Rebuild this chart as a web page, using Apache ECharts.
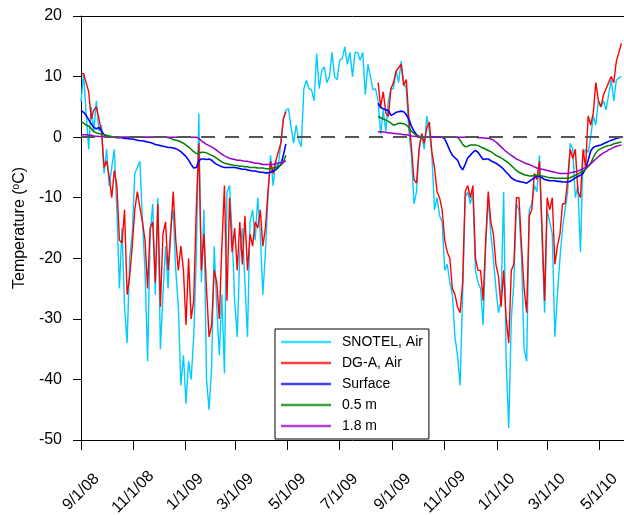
<!DOCTYPE html>
<html><head><meta charset="utf-8">
<script src="https://cdn.jsdelivr.net/npm/echarts@6/dist/echarts.min.js"></script>
<style>html,body{margin:0;padding:0;background:#fff}#c{width:624px;height:515px}</style>
</head><body><div id="c"></div>
<script>
// ---- axis / category definitions ----
const axisStart = '2008-09-01';
const axisEnd = '2010-05-30';
const stepDays = 3;
const season1Start = '2008-09-01';
const season2Start = '2009-08-15';
const yMin = -50, yMax = 20, yStep = 10;
const seriesNames = ['SNOTEL, Air', 'DG-A, Air', 'Surface', '0.5 m', '1.8 m'];

// ---- SNOTEL air temperature, every 3 days from 2008-09-01 ----
const snotelAir = [
 5.8, 10.5, 4, -2, 5, 1, 6, 1, 2, -6,
 -2, -8, -5, -2, -12, -25, -15, -28, -34, -20,
 -16, -6, -5, -4, -14, -22, -37, -16, -11, -26,
 -10, -35, -26, -18, -25, -15, -12, -22, -28, -41,
 -36, -44, -37, -40, -33, -20, 3.9, -24, -12, -40,
 -45, -38, -18, -28, -36, -26, -39, -9, -8, -16,
 -27, -33, -19, -15, -24, -33, -14, -12, -17, -10,
 -16, -26, -19, -10, -3, -8, -4, -5, -1, 3,
 4.5, 4.7, 1.7, -1, 2, -0.5, -1.6, 8, 9.4, 8,
 7.8, 6, 13.8, 8, 11, 11.6, 9, 10, 14, 10,
 9.5, 12.7, 13, 14.9, 12, 14, 10, 14, 14, 12.7,
 14, 7, 12, 10, 7.8, 8, 6, 0.5, 4.5, 1,
 6, 8, 8, 11, 9, 12.5, 9, 8, 1, -3,
 -11, -9, -2, 0.5, -2, 3.5, 1, -3, -12, -10,
 -13, -14, -22, -21, -24, -26, -33, -36, -41, -26,
 -10, -9, -11, -9, -22, -24, -25, -31, -18, -10,
 -16, -20, -25, -29, -27, -9, -37, -48, -30, -24,
 -11, -12, -20, -35, -37, -12, -11, -8, -9, -3,
 -17, -29, -12, -14, -16, -33, -26, -20, -15, -12,
 -9, -1, -2, -10, -8, -19, -3, -2, -2.5, 0,
 3.5, 2, 6, 5, 6, 4.5, 7, 9.4, 6, 9.4,
 9.8, 10
];

// ---- DG-A air temperature, every 3 days, two seasons ----
const dgaAir1 = [
 10.4, 10.5, 9, 7.5, 3, 4.5, 5, 3, 1, -5,
 -3.9, -6.5, -10, -5.5, -8, -17, -17.5, -12, -26, -23,
 -18, -12, -9, -11.6, -14, -17, -25, -15, -14, -24,
 -11, -28, -16, -14, -22, -16, -9, -17, -22, -18,
 -22, -31, -20, -30, -27, -12, -1, -22, -16, -25,
 -33, -31, -22, -24, -30, -18, -8, -27, -10, -19,
 -15, -22, -14, -21, -13, -22, -16, -18, -14, -15,
 -12, -18, -15, -9, -4, -6, -4, -2.5, -1, 3,
 4.2
];
const dgaAir2 = [
 9, 5, 7.5, 4, 3.4, 8, 9, 10.8, 11.5, 12,
 8.5, 9.5, 3, -1.6, -7, -7.6, -2, 0.6, -1, 1.5,
 2.5, -2.5, -5, -9, -10, -12, -17, -19, -20, -25,
 -26, -28, -29, -24, -9, -8, -10, -8, -20, -22,
 -22, -27, -17, -9, -14, -16, -21, -23, -28, -22,
 -30, -34, -22, -21, -10, -10, -18, -25, -29, -13,
 -12, -6, -7, -4, -15, -27, -10, -12, -10, -21,
 -18, -16, -11, -11, -7, -2, -3.5, -2, -9, -10,
 -2, -5, 3.5, 2, 4, 9, 6, 5, 7, 8,
 9, 10, 9, 12.5, 14, 15.5
];

// ---- Ground surface ----
const surface1 = [
 4.4, 4.1, 3.6, 2.9, 2.2, 1.6, 1.4, 1.6, 1.0, 0.4,
 0.1, 0, 0, 0, -0.1, -0.1, -0.1, -0.2, -0.2, -0.3,
 -0.3, -0.4, -0.5, -0.6, -0.6, -0.7, -0.8, -0.9, -1.0, -1.2,
 -1.3, -1.4, -1.5, -1.6, -1.7, -1.7, -1.8, -1.9, -2.1, -2.4,
 -2.8, -3.2, -3.8, -4.5, -5.1, -5.0, -3.9, -3.6, -3.6, -3.7,
 -3.6, -3.8, -4.2, -4.5, -4.7, -4.9, -5.0, -5.0, -5.0, -5.0,
 -5.0, -5.1, -5.2, -5.3, -5.3, -5.4, -5.5, -5.6, -5.6, -5.7,
 -5.8, -5.8, -5.9, -5.9, -5.8, -5.6, -5.4, -5.0, -4.6, -3.0,
 -1.1
];
const surface2 = [
 5.6, 4.9, 4.7, 4.5, 4.4, 3.6, 3.8, 4.1, 4.2, 4.3,
 4.2, 3.7, 3.0, 1.8, 1.0, 0.4, 0.1, 0, 0, 0,
 0, 0, 0, 0, 0, 0, -0.3, -1.2, -2.2, -3.0,
 -3.4, -3.8, -4.8, -5.4, -4.5, -3.4, -3.0, -2.5, -2.2, -2.5,
 -3.1, -3.7, -3.6, -3.6, -3.9, -4.1, -4.3, -4.6, -4.9, -5.3,
 -5.8, -6.2, -6.7, -7.0, -7.2, -7.3, -7.4, -7.5, -7.6, -7.3,
 -7.0, -6.7, -6.5, -6.5, -6.7, -7.0, -7.1, -7.2, -7.2, -7.2,
 -7.3, -7.3, -7.4, -7.4, -7.4, -7.3, -7.0, -6.7, -6.5, -6.3,
 -6.0, -5.2, -3.8, -2.3, -1.7, -1.5, -1.4, -1.3, -1.1, -0.9,
 -0.7, -0.5, -0.4, -0.2, -0.1, 0
];

// ---- 0.5 m depth ----
const depth05a = [
 2.6, 2.3, 2.0, 1.8, 1.4, 0.9, 0.7, 0.6, 0.5, 0.4,
 0.3, 0.2, 0.1, 0, 0, 0, 0, 0, 0, 0,
 0, 0, 0, 0, 0, 0, 0, 0, 0, 0,
 0, 0, 0, 0, -0.1, -0.2, -0.4, -0.5, -0.6, -0.8,
 -1.0, -1.3, -1.6, -2.0, -2.4, -2.7, -2.7, -2.5, -2.5, -2.6,
 -2.8, -3.0, -3.2, -3.5, -3.8, -4.1, -4.3, -4.4, -4.5, -4.6,
 -4.7, -4.7, -4.8, -4.8, -4.9, -4.9, -5.0, -5.0, -5.0, -5.1,
 -5.1, -5.1, -5.2, -5.2, -5.2, -5.1, -5.0, -4.8, -4.6, -4.2,
 -3.0
];
const depth05b = [
 3.4, 3.2, 3.0, 2.8, 2.6, 2.3, 2.0, 2.1, 2.3, 2.3,
 2.2, 2.0, 1.6, 1.0, 0.6, 0.3, 0.1, 0, 0, 0,
 0, 0, 0, 0, 0, 0, 0, 0, 0, 0,
 0, 0, -0.5, -1.2, -1.6, -1.5, -1.3, -1.3, -1.3, -1.4,
 -1.6, -1.8, -2.0, -2.2, -2.4, -2.7, -3.0, -3.2, -3.4, -3.7,
 -4.0, -4.3, -4.7, -5.1, -5.5, -5.8, -6.0, -6.2, -6.3, -6.4,
 -6.4, -6.3, -6.3, -6.3, -6.4, -6.5, -6.6, -6.7, -6.7, -6.8,
 -6.8, -6.8, -6.8, -6.8, -6.8, -6.7, -6.5, -6.3, -6.1, -5.8,
 -5.6, -5.3, -4.9, -4.3, -3.4, -2.6, -2.1, -1.9, -1.7, -1.5,
 -1.4, -1.3, -1.1, -1.0, -0.9, -0.8
];

// ---- 1.8 m depth ----
const depth18a = [
 0.4, 0.4, 0.4, 0.3, 0.3, 0.2, 0.15, 0.1, 0.1, 0.05,
 0, 0, 0, 0, 0, 0, 0, 0, 0, 0,
 0, 0, 0, 0, 0, 0, 0, 0, 0, 0,
 0, 0, 0, 0, 0, 0, 0, 0, 0, 0,
 0, 0, 0, 0, 0, 0, -0.2, -0.6, -0.9, -1.2,
 -1.4, -1.6, -1.9, -2.2, -2.5, -2.8, -3.1, -3.3, -3.5, -3.6,
 -3.7, -3.8, -3.8, -3.9, -4.0, -4.0, -4.1, -4.2, -4.3, -4.3,
 -4.4, -4.5, -4.5, -4.5, -4.5, -4.5, -4.4, -4.3, -4.2, -4.1,
 -3.9
];
const depth18b = [
 0.9, 0.9, 0.85, 0.8, 0.7, 0.7, 0.6, 0.6, 0.5, 0.5,
 0.4, 0.4, 0.3, 0.2, 0.15, 0.1, 0.05, 0, 0, 0,
 0, 0, 0, 0, 0, 0, 0, 0, 0, 0,
 0, 0, 0, 0, 0, 0, 0, 0, 0, -0.1,
 -0.1, -0.1, -0.2, -0.2, -0.3, -0.5, -0.8, -1.2, -1.6, -2.0,
 -2.4, -2.7, -3.0, -3.3, -3.6, -3.8, -4.0, -4.2, -4.4, -4.5,
 -4.7, -4.9, -5.1, -5.2, -5.3, -5.4, -5.5, -5.6, -5.7, -5.8,
 -5.9, -6.0, -6.0, -6.0, -6.0, -5.9, -5.8, -5.7, -5.6, -5.4,
 -5.2, -5.0, -4.7, -4.4, -4.0, -3.6, -3.2, -2.9, -2.6, -2.4,
 -2.1, -1.9, -1.7, -1.5, -1.4, -1.3
];

// ---- helpers ----
const DAY = 86400000;
const t0 = Date.parse(axisStart + 'T00:00:00Z');
function dayIndex(s) { return Math.round((Date.parse(s + 'T00:00:00Z') - t0) / DAY); }
const categories = [];
for (let t = t0; t <= Date.parse(axisEnd + 'T00:00:00Z'); t += DAY) {
  categories.push(new Date(t).toISOString().slice(0, 10));
}
function pairs(values, start) {
  const s = dayIndex(start);
  return values.map((v, i) => [s + i * stepDays, v]);
}
function twoSeasons(a, b) {
  const p1 = pairs(a, season1Start);
  const gap = p1[p1.length - 1][0] + stepDays;
  return p1.concat([[gap, null]], pairs(b, season2Start));
}
function isTickDay(idx, val) {
  const m = +val.slice(5, 7), d = +val.slice(8, 10);
  return d === 1 && m % 2 === 1;
}
function fmtDate(val) {
  const p = val.split('-');
  return (+p[1]) + '/' + (+p[2]) + '/' + p[0].slice(2);
}

const FONT = 'Liberation Sans, Arial, Helvetica, sans-serif';
const colors = ['#00CCFF', '#FF0000', '#0000FF', '#008000', '#9900CC'];

function lineSeries(name, data, color, width, extra) {
  return Object.assign({
    name: name, type: 'line', data: data, symbol: 'none', showSymbol: false,
    connectNulls: false, animation: false,
    lineStyle: { color: color, width: width }, itemStyle: { color: color }
  }, extra || {});
}

const chart = echarts.init(document.getElementById('c'), null, { renderer: 'canvas' });
chart.setOption({
  animation: false,
  backgroundColor: '#fff',
  textStyle: { fontFamily: FONT },
  grid: { left: 81, right: 0, top: 16, bottom: 75, containLabel: false, outerBoundsMode: 'none' },
  legend: {
    data: seriesNames,
    orient: 'vertical',
    left: 275, top: 329,
    padding: [6, 6, 6, 6],
    icon: 'rect',
    itemWidth: 50, itemHeight: 2.5, itemGap: 7,
    backgroundColor: '#fff',
    borderColor: '#000', borderWidth: 1,
    itemStyle: { borderWidth: 0, opacity: 0.75 },
    textStyle: { fontSize: 14, lineHeight: 14, color: '#000', fontFamily: FONT, padding: [0, 0, 0, 6] }
  },
  xAxis: [{
    type: 'category', data: categories, boundaryGap: false,
    axisLine: { onZero: false, lineStyle: { color: '#000', width: 1 } },
    axisTick: { show: true, inside: false, length: 10, interval: isTickDay, lineStyle: { color: '#000' } },
    axisLabel: {
      interval: isTickDay, formatter: fmtDate, rotate: 45, align: 'center', verticalAlign: 'middle',
      margin: 52, fontSize: 16, color: '#000', fontFamily: FONT
    },
    splitLine: { show: false }
  }, {
    type: 'category', data: categories, boundaryGap: false, position: 'top',
    axisLine: { onZero: false, lineStyle: { color: '#000', width: 1 } },
    axisTick: { show: false }, axisLabel: { show: false }, splitLine: { show: false }
  }],
  yAxis: {
    type: 'value', min: yMin, max: yMax, interval: yStep,
    name: '{n|Temperature (}{sup|o}{n|C)}',
    nameLocation: 'middle', nameGap: 52, nameRotate: 90,
    nameTextStyle: {
      fontSize: 16, color: '#000', fontFamily: FONT,
      rich: {
        n: { fontSize: 16, lineHeight: 18, color: '#000', fontFamily: FONT },
        sup: { fontSize: 10, lineHeight: 10, verticalAlign: 'top', color: '#000', fontFamily: FONT }
      }
    },
    axisLine: { show: true, lineStyle: { color: '#000', width: 1 } },
    axisTick: { show: true, inside: false, length: 8, lineStyle: { color: '#000' } },
    axisLabel: { margin: 19, fontSize: 16, color: '#000', fontFamily: FONT },
    splitLine: { show: false }
  },
  series: [
    lineSeries(seriesNames[0], pairs(snotelAir, season1Start), colors[0], 1.4),
    lineSeries(seriesNames[1], twoSeasons(dgaAir1, dgaAir2), colors[1], 1.4, {
      markLine: {
        silent: true, symbol: 'none', animation: false,
        label: { show: false },
        lineStyle: { type: [14, 10], color: '#555', width: 2 },
        data: [{ yAxis: 0 }]
      }
    }),
    lineSeries(seriesNames[2], twoSeasons(surface1, surface2), colors[2], 1.6),
    lineSeries(seriesNames[3], twoSeasons(depth05a, depth05b), colors[3], 1.5),
    lineSeries(seriesNames[4], twoSeasons(depth18a, depth18b), colors[4], 1.5)
  ]
});
</script>
</body></html>
